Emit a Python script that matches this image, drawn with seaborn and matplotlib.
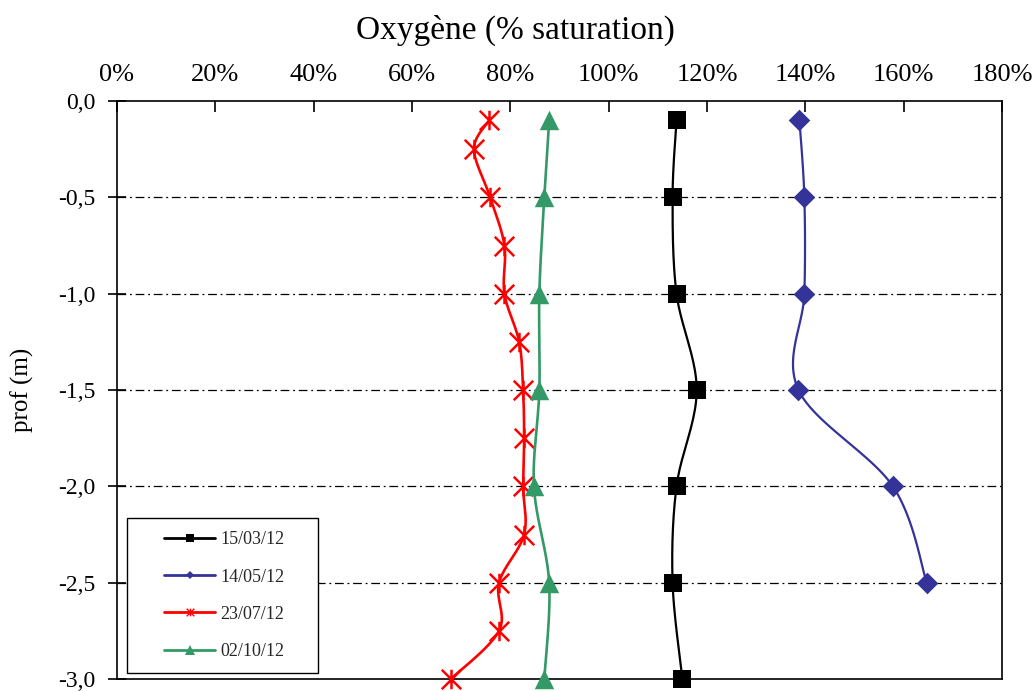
import numpy as np
import matplotlib
matplotlib.use("Agg")
import matplotlib.pyplot as plt
from matplotlib.lines import Line2D
from matplotlib.path import Path
from matplotlib.legend_handler import HandlerLine2D
import seaborn as sns

# ---------------- data ----------------
series_labels = ["15/03/12", "14/05/12", "23/07/12", "02/10/12"]

depth_1503 = [-0.1, -0.5, -1.0, -1.5, -2.0, -2.5, -3.0]
oxy_1503 = [113.8, 113.0, 113.8, 117.9, 113.8, 113.0, 115.0]

depth_1405 = [-0.1, -0.5, -1.0, -1.5, -2.0, -2.5]
oxy_1405 = [138.8, 139.8, 139.8, 138.6, 157.8, 164.7]

depth_2307 = [-0.1, -0.25, -0.5, -0.75, -1.0, -1.25, -1.5, -1.75, -2.0, -2.25, -2.5, -2.75, -3.0]
oxy_2307 = [75.7, 72.6, 75.9, 78.8, 78.8, 81.8, 82.6, 82.8, 82.6, 82.8, 77.7, 77.7, 67.9]

depth_0210 = [-0.1, -0.5, -1.0, -1.5, -2.0, -2.5, -3.0]
oxy_0210 = [87.9, 86.9, 85.9, 85.9, 84.8, 87.9, 86.9]

x_ticks = [0, 20, 40, 60, 80, 100, 120, 140, 160, 180]
x_ticklabels = ["0%", "20%", "40%", "60%", "80%", "100%", "120%", "140%", "160%", "180%"]
y_ticks = [0.0, -0.5, -1.0, -1.5, -2.0, -2.5, -3.0]
y_ticklabels = ["0,0", "-0,5", "-1,0", "-1,5", "-2,0", "-2,5", "-3,0"]

x_title = "Oxygène (% saturation)"
y_title = "prof (m)"

# ---------------- style ----------------
sns.set_theme(style="white")
plt.rcParams["font.family"] = ["Liberation Serif", "DejaVu Serif"]

fig = plt.figure(figsize=(10.36, 6.91), dpi=100)
ax = fig.add_axes([117 / 1036, 1 - 679 / 691, (1002 - 117) / 1036, (679 - 101) / 691])
ax.set_xlim(0, 180)
ax.set_ylim(-3.0, 0.0)

# X-shaped marker with vertical bar (Excel "star")
star_path = Path(
    [(-1, -1), (1, 1), (-1, 1), (1, -1), (0, -1), (0, 1)],
    [Path.MOVETO, Path.LINETO, Path.MOVETO, Path.LINETO, Path.MOVETO, Path.LINETO],
)

styles = [
    dict(color="black", marker="s", ms=13, lw=1.6, mew=0),
    dict(color="#333399", marker="D", ms=11, lw=1.6, mew=0),
    dict(color="#FF0000", marker=star_path, ms=14, lw=1.9, mew=1.8),
    dict(color="#339966", marker="^", ms=14, lw=1.9, mew=0),
]
legend_ms = [5.5, 4.0, 5.5, 6.5]

data = [(oxy_1503, depth_1503), (oxy_1405, depth_1405), (oxy_2307, depth_2307), (oxy_0210, depth_0210)]


def smooth_curve(xs, ys, n=24):
    pts = ax.transData.transform(np.column_stack([xs, ys]))
    P = np.vstack([pts[0], pts, pts[-1]])
    segs = []
    for i in range(1, len(P) - 2):
        p0, p1, p2, p3 = P[i - 1], P[i], P[i + 1], P[i + 2]
        c1 = p1 + (p2 - p0) / 6.0
        c2 = p2 - (p3 - p1) / 6.0
        t = np.linspace(0, 1, n)[:, None]
        seg = (1 - t) ** 3 * p1 + 3 * (1 - t) ** 2 * t * c1 + 3 * (1 - t) * t ** 2 * c2 + t ** 3 * p2
        segs.append(seg if i == 1 else seg[1:])
    return ax.transData.inverted().transform(np.vstack(segs))


for k, ((xs, ys), st) in enumerate(zip(data, styles)):
    curve = smooth_curve(xs, ys)
    sns.lineplot(x=curve[:, 0], y=curve[:, 1], sort=False, estimator=None,
                 color=st["color"], lw=st["lw"], ax=ax, legend=False, zorder=3 + 2 * k)
    if st["mew"] > 0:
        sns.scatterplot(x=xs, y=ys, marker=st["marker"], s=st["ms"] ** 2,
                        color=st["color"], edgecolor=st["color"], linewidth=st["mew"],
                        ax=ax, legend=False, zorder=4 + 2 * k, clip_on=False)
    else:
        sns.scatterplot(x=xs, y=ys, marker=st["marker"], s=st["ms"] ** 2,
                        color=st["color"], linewidth=0,
                        ax=ax, legend=False, zorder=4 + 2 * k, clip_on=False)

# ---------------- axes ----------------
ax.xaxis.tick_top()
ax.xaxis.set_label_position("top")
ax.set_xticks(x_ticks)
ax.set_xticklabels(x_ticklabels, fontsize=19)
ax.set_yticks(y_ticks)
ax.set_yticklabels(y_ticklabels, fontsize=17)
ax.tick_params(axis="x", which="both", top=True, bottom=False, direction="in",
               length=8, width=1.2, color="black", pad=11, labelcolor="black")
ax.tick_params(axis="y", which="both", left=True, right=False, direction="inout",
               length=13, width=1.2, color="black", pad=9, labelcolor="black")

ax.set_xlabel(x_title, fontsize=24, color="black")
ax.xaxis.set_label_coords(0.45, 1.108)
ax.set_ylabel(y_title, fontsize=18, color="black")
ax.yaxis.set_label_coords(-0.094, 0.5)

for sp in ax.spines.values():
    sp.set_visible(True)
    sp.set_color("black")
    sp.set_linewidth(1.2)
    sp.set_zorder(2.5)

# horizontal dash-dot grid at the interior depth ticks
ax.grid(False)
for yv in y_ticks[1:-1]:
    ax.axhline(yv, color="black", linewidth=0.9, linestyle=(0, (7, 3, 1.5, 3)), zorder=1)

# ---------------- legend ----------------
handles = [
    Line2D([], [], color=st["color"], marker=st["marker"], ms=lm, lw=2.0,
           mew=(1.0 if st["mew"] > 0 else 0), mec=st["color"], mfc=st["color"])
    for st, lm in zip(styles, legend_ms)
]
leg = ax.legend(handles, series_labels, loc="lower left",
                bbox_to_anchor=(10 / 885, 6 / 578, 191 / 885, 0.26), mode="expand",
                borderaxespad=0, fontsize=13, frameon=True, fancybox=False,
                handlelength=4.15, handletextpad=0.3, labelspacing=1.12, borderpad=0.72,
                handler_map={Line2D: HandlerLine2D(xpad=1.34)})
leg.get_frame().set_edgecolor("black")
leg.get_frame().set_linewidth(1.0)
leg.get_frame().set_facecolor("white")
leg.get_frame().set_alpha(1)
leg.set_zorder(20)

fig.savefig("out.png", dpi=100)
